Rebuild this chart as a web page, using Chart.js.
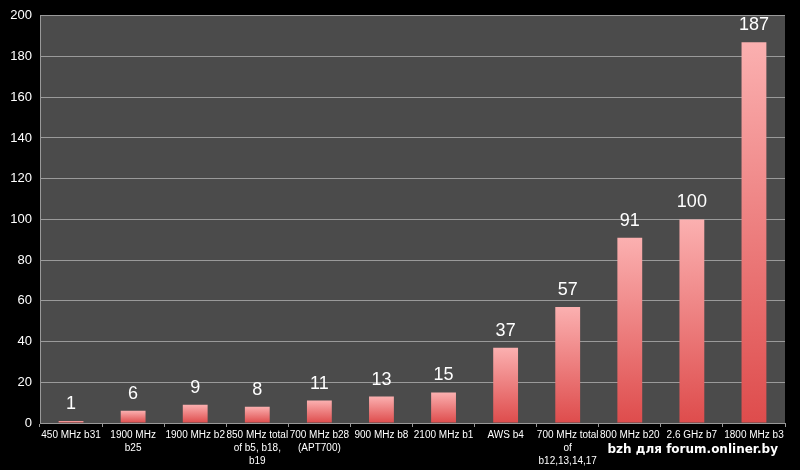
<!DOCTYPE html>
<html>
<head>
<meta charset="utf-8">
<script src="https://cdn.jsdelivr.net/npm/chart.js@4"></script>
<style>
  html, body { margin: 0; padding: 0; background: #000; }
  #wrap { width: 800px; height: 470px; position: relative; }
</style>
</head>
<body>
<div id="wrap"><canvas id="myChart" width="800" height="470"></canvas></div>
<script>
// setup
const labels = [
  '450 MHz b31',
  ['1900 MHz', 'b25'],
  '1900 MHz b2',
  ['850 MHz total', 'of b5, b18,', 'b19'],
  ['700 MHz b28', '(APT700)'],
  '900 MHz b8',
  '2100 MHz b1',
  'AWS b4',
  ['700 MHz total', 'of', 'b12,13,14,17'],
  '800 MHz b20',
  '2.6 GHz b7',
  '1800 MHz b3'
];
const values = [1, 6, 9, 8, 11, 13, 15, 37, 57, 91, 100, 187];
const yTicks = [0, 20, 40, 60, 80, 100, 120, 140, 160, 180, 200];

// plot area background + watermark
const plotBg = {
  id: 'plotBg',
  beforeDraw(chart) {
    const { ctx, chartArea: a } = chart;
    ctx.save();
    ctx.fillStyle = '#000';
    ctx.fillRect(0, 0, chart.width, chart.height);
    ctx.fillStyle = '#4b4b4b';
    ctx.fillRect(a.left, a.top, a.right - a.left, a.bottom - a.top);
    ctx.restore();
  },
  afterDraw(chart) {
    const ctx = chart.ctx;
    ctx.save();
    ctx.fillStyle = '#fff';
    ctx.font = 'bold 12px "DejaVu Sans", sans-serif';
    ctx.textAlign = 'right';
    ctx.textBaseline = 'middle';
    ctx.fillText('bzh для forum.onliner.by', 778, 450);
    ctx.restore();
  }
};

// value labels above bars
const valueLabels = {
  id: 'valueLabels',
  afterDatasetsDraw(chart) {
    const ctx = chart.ctx;
    const meta = chart.getDatasetMeta(0);
    ctx.save();
    ctx.fillStyle = '#fff';
    ctx.font = '18px "Liberation Sans", Arial, sans-serif';
    ctx.textAlign = 'center';
    ctx.textBaseline = 'bottom';
    meta.data.forEach((bar, i) => {
      ctx.fillText(values[i], bar.x, bar.y - 8);
    });
    ctx.restore();
  }
};

const data = {
  labels: labels,
  datasets: [{
    label: 'Count',
    data: values,
    backgroundColor: (c) => {
      const chart = c.chart;
      const a = chart.chartArea;
      const y = chart.scales && chart.scales.y;
      if (!a || !y || c.dataIndex === undefined) return '#e85a5a';
      const top = y.getPixelForValue(values[c.dataIndex]);
      const g = chart.ctx.createLinearGradient(0, top, 0, a.bottom);
      g.addColorStop(0, '#fbb0b0');
      g.addColorStop(1, '#de4c4c');
      return g;
    },
    borderWidth: 0,
    barPercentage: 0.4,
    categoryPercentage: 1
  }]
};

// config
const config = {
  type: 'bar',
  data,
  plugins: [plotBg, valueLabels],
  options: {
    responsive: false,
    animation: false,
    layout: { padding: { top: 15, right: 15, left: 0, bottom: 0 } },
    plugins: { legend: { display: false }, tooltip: { enabled: false } },
    scales: {
      x: {
        grid: { display: true, drawOnChartArea: false, drawTicks: true, tickLength: 4, color: '#999', offset: true },
        border: { color: '#999' },
        ticks: {
          color: '#fff',
          font: { family: '"Liberation Sans", Arial, sans-serif', size: 10, lineHeight: 1.3 },
          maxRotation: 0,
          autoSkip: false,
          padding: 2
        },
        afterFit: (s) => { s.height = 47; }
      },
      y: {
        min: 0,
        max: 200,
        afterBuildTicks: (s) => { s.ticks = yTicks.map(v => ({ value: v })); },
        grid: { color: '#9a9a9a', drawTicks: false },
        border: { color: '#999' },
        ticks: {
          color: '#fff',
          font: { family: '"Liberation Sans", Arial, sans-serif', size: 13 },
          padding: 8
        },
        afterFit: (s) => { s.width = 40; }
      }
    }
  }
};

// render init block
const myChart = new Chart(document.getElementById('myChart'), config);
</script>
</body>
</html>
